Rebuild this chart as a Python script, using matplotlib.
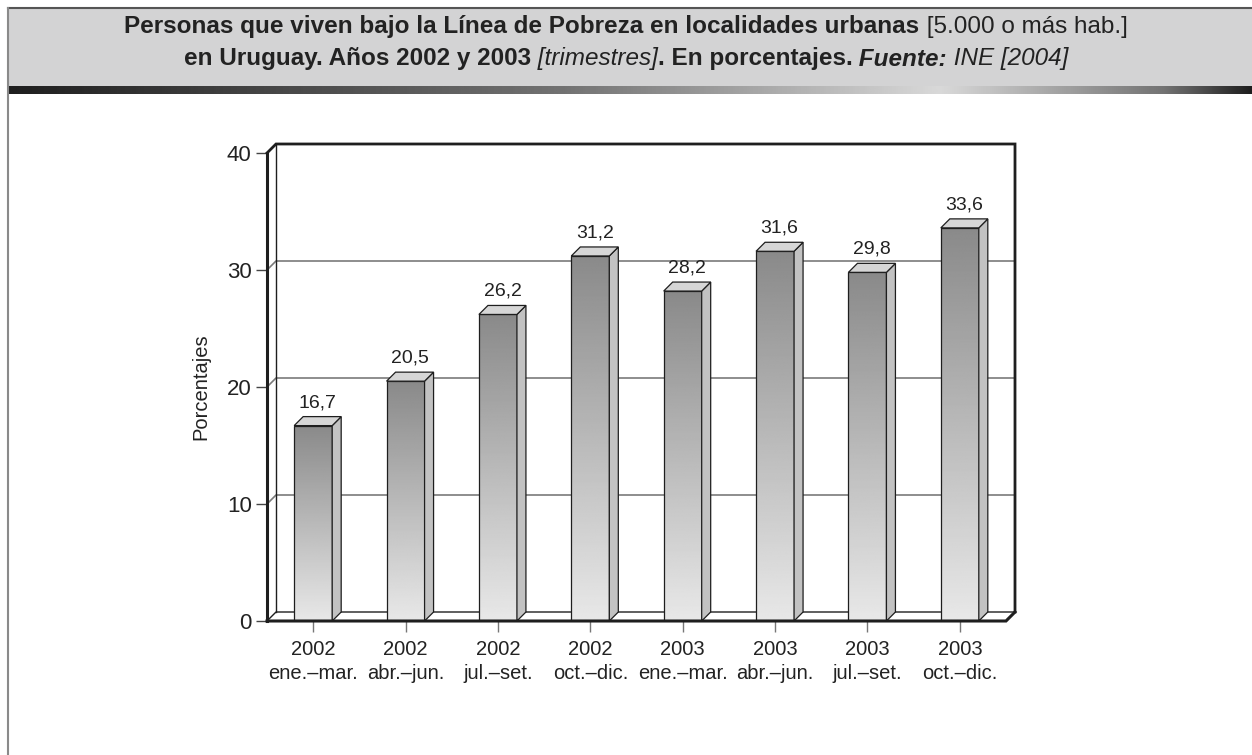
import numpy as np
import matplotlib
matplotlib.use("Agg")
import matplotlib.pyplot as plt
from matplotlib.patches import Rectangle, Polygon
from matplotlib.lines import Line2D

# data
years = ["2002", "2002", "2002", "2002", "2003", "2003", "2003", "2003"]
quarters = ["ene.\u2013mar.", "abr.\u2013jun.", "jul.\u2013set.", "oct.\u2013dic.",
            "ene.\u2013mar.", "abr.\u2013jun.", "jul.\u2013set.", "oct.\u2013dic."]
values = [16.7, 20.5, 26.2, 31.2, 28.2, 31.6, 29.8, 33.6]
yticks = [0, 10, 20, 30, 40]

W, H = 1252, 755
FONT = ["Liberation Sans", "DejaVu Sans"]

fig = plt.figure(figsize=(W / 100, H / 100), dpi=100)
fig.patch.set_facecolor("white")

# header band
fig.patches.append(Rectangle((8 / W, 1 - 86 / H), 1 - 8 / W, 78 / H, transform=fig.transFigure,
                             facecolor="#d3d3d4", edgecolor="none", zorder=0))
fig.lines.append(Line2D([8 / W, 1], [1 - 8 / H, 1 - 8 / H], transform=fig.transFigure,
                        color="#555555", lw=1.5))
fig.lines.append(Line2D([8 / W, 8 / W], [0, 1 - 8 / H], transform=fig.transFigure,
                        color="#8a8a8a", lw=1.5))
grad_ax = fig.add_axes([8 / W, 1 - 94 / H, 1 - 8 / W, 8 / H])
xs = np.linspace(0, 1, 600)
shade = np.interp(xs, [0, 0.45, 0.75, 0.93, 1.0], [0.12, 0.45, 0.85, 0.45, 0.12])
grad_ax.imshow(shade[None, :], aspect="auto", cmap="gray", vmin=0, vmax=1, extent=[0, 1, 0, 1])
grad_ax.set_axis_off()


def rich_line(y_px, parts, size):
    # place mixed-style pieces on one baseline, centred as a whole
    renderer = fig.canvas.get_renderer()
    texts = []
    for s, weight, style in parts:
        t = fig.text(0, 1 - y_px / H, s, fontsize=size, fontweight=weight, fontstyle=style,
                     va="baseline", ha="left", family="Liberation Sans", color="#222222")
        texts.append(t)
    widths = [t.get_window_extent(renderer).width for t in texts]
    x = (W - sum(widths)) / 2
    for t, w in zip(texts, widths):
        t.set_x(x / W)
        x += w


rich_line(33.5, [("Personas que viven bajo la Línea de Pobreza en localidades urbanas", "bold", "normal"),
                 (" [5.000 o más hab.]", "normal", "normal")], 17.5)
rich_line(65.5, [("en Uruguay. Años 2002 y 2003", "bold", "normal"),
                 (" [trimestres]", "normal", "italic"),
                 (". En porcentajes.", "bold", "normal"),
                 (" Fuente:", "bold", "italic"),
                 (" INE [2004]", "normal", "italic")], 17.5)

# plot area (front plane)
x0, x1, ytop, ybot = 267, 1006, 153, 621
ax = fig.add_axes([x0 / W, 1 - ybot / H, (x1 - x0) / W, (ybot - ytop) / H])
n = len(values)
ax.set_xlim(0, n)
ax.set_ylim(0, 40)
ax.patch.set_visible(False)
for s in ax.spines.values():
    s.set_visible(False)

depth_px = 9
ddx = depth_px * n / (x1 - x0)
ddy = depth_px * 40 / (ybot - ytop)
dark = "#1e1e1e"

# left wall and back wall
ax.add_patch(Polygon([(0, 0), (ddx, ddy), (ddx, 40 + ddy), (0, 40)], closed=True,
                     facecolor="white", edgecolor="none", zorder=1, clip_on=False))
for y in yticks[1:-1]:
    ax.plot([0, ddx, n + ddx], [y, y + ddy, y + ddy], color="#7a7a7a", lw=1.2, zorder=1.5,
            clip_on=False)
ax.plot([ddx, ddx], [ddy, 40 + ddy], color=dark, lw=1.0, zorder=2, clip_on=False)
ax.plot([0, ddx, n + ddx, n + ddx], [40, 40 + ddy, 40 + ddy, ddy], color=dark, lw=2.0,
        zorder=2, solid_joinstyle="miter", clip_on=False)
# floor
ax.plot([0, ddx, n + ddx], [0, ddy, ddy], color=dark, lw=1.0, zorder=2, clip_on=False)
ax.plot([0, 0], [0, 40], color=dark, lw=2.2, zorder=6, clip_on=False)
ax.plot([0, n, n + ddx], [0, 0, ddy], color=dark, lw=2.2, zorder=6, clip_on=False,
        solid_joinstyle="miter")

# bars
hw = 19 * n / (x1 - x0)
grad = np.linspace(0.54, 0.91, 256)[:, None]
for i, v in enumerate(values):
    c = i + 0.5
    ax.imshow(grad, cmap="gray", vmin=0, vmax=1, aspect="auto", origin="upper",
              extent=[c - hw, c + hw, 0, v], zorder=3, interpolation="bilinear")
    ax.add_patch(Rectangle((c - hw, 0), 2 * hw, v, facecolor="none", edgecolor=dark,
                           lw=0.9, zorder=4))
    ax.add_patch(Polygon([(c + hw, 0), (c + hw + ddx, ddy), (c + hw + ddx, v + ddy), (c + hw, v)],
                         closed=True, facecolor="#c2c2c2", edgecolor=dark, lw=0.9, zorder=4,
                         clip_on=False))
    ax.add_patch(Polygon([(c - hw, v), (c + hw, v), (c + hw + ddx, v + ddy), (c - hw + ddx, v + ddy)],
                         closed=True, facecolor="#d6d6d6", edgecolor=dark, lw=0.9, zorder=4,
                         clip_on=False))
    ax.annotate(f"{v:.1f}".replace(".", ","), (c + ddx / 2, v + ddy), xytext=(0, 4),
                textcoords="offset points", ha="center", va="bottom", fontsize=14,
                family=FONT, color="#222222")

ax.set_yticks(yticks)
ax.set_yticklabels([str(t) for t in yticks], family=FONT, fontsize=16, color="#222222")
ax.set_xticks(np.arange(n) + 0.5)
ax.set_xticklabels([f"{y}\n{q}" for y, q in zip(years, quarters)], family=FONT,
                   fontsize=14.5, color="#222222", linespacing=1.3)
ax.tick_params(axis="y", direction="out", length=8, width=1, color="#444444", pad=3)
ax.tick_params(axis="x", direction="out", length=8, width=1, color="#777777", pad=6)
ax.set_ylabel("Porcentajes", family=FONT, fontsize=14.5, color="#222222", labelpad=12)

fig.savefig("out.png", dpi=100)
